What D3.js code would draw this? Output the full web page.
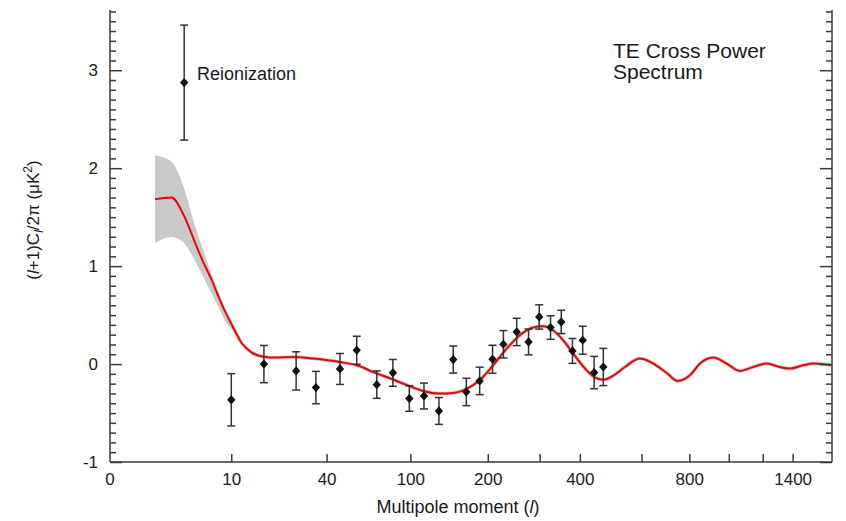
<!DOCTYPE html>
<html>
<head>
<meta charset="utf-8">
<script src="https://cdn.jsdelivr.net/npm/d3@7/dist/d3.min.js"></script>
<style>
  html, body { margin: 0; padding: 0; background: #fff; }
  svg { display: block; font-family: "Liberation Sans", Arial, Helvetica, sans-serif; }
</style>
</head>
<body>
<svg id="chart" width="846" height="521"></svg>
<script>
// ---- data ----
// Binned TE measurements: multipole, value, 1-sigma error
const dataL   = [10, 17, 27, 35, 47, 57, 71, 84, 99, 114, 131, 149, 167, 187, 208, 227, 252, 276, 299, 325, 351, 380, 408, 441, 469];
const dataV   = [-0.365, 0.0, -0.07, -0.24, -0.05, 0.141, -0.21, -0.09, -0.352, -0.326, -0.479, 0.046, -0.285, -0.172, 0.049, 0.202, 0.328, 0.226, 0.481, 0.373, 0.43, 0.134, 0.243, -0.087, -0.03];
const dataErr = [0.267, 0.19, 0.195, 0.165, 0.158, 0.143, 0.14, 0.137, 0.13, 0.132, 0.137, 0.138, 0.14, 0.14, 0.143, 0.14, 0.14, 0.132, 0.124, 0.12, 0.119, 0.127, 0.143, 0.165, 0.19];

// Reionization point
const reionL = [4];
const reionV = [2.874];
const reionErr = [0.587];

// Model curve
const modelL = [2, 3, 4, 5, 6, 7, 8, 9, 10, 12, 14, 17, 20, 26, 34, 47, 59, 68, 82, 97, 113, 132, 149, 168, 187, 209, 233, 258, 286, 308, 331, 356, 382, 419, 445, 470, 500, 540, 594, 645, 700, 747, 803, 851, 918, 988, 1063, 1141, 1225, 1312, 1381, 1477, 1552, 1700];
const modelV = [1.683, 1.70, 1.51, 1.25, 1.03, 0.86, 0.68, 0.53, 0.41, 0.21, 0.12, 0.075, 0.066, 0.072, 0.056, 0.02, -0.022, -0.08, -0.148, -0.216, -0.275, -0.301, -0.295, -0.25, -0.165, -0.012, 0.158, 0.294, 0.373, 0.386, 0.345, 0.243, 0.107, -0.063, -0.14, -0.16, -0.12, -0.03, 0.056, 0.005, -0.091, -0.172, -0.114, 0.005, 0.066, 0.005, -0.07, -0.03, 0.005, -0.03, -0.046, -0.012, 0.005, -0.012];

// Cosmic variance band around the model
const bandL    = [2, 3, 4, 5, 6, 7, 8, 9, 10, 11, 12];
const bandLow  = [1.237, 1.298, 1.233, 1.06, 0.882, 0.72, 0.574, 0.44, 0.36, 0.28, 0.2];
const bandHigh = [2.132, 2.065, 1.79, 1.417, 1.15, 0.912, 0.72, 0.55, 0.45, 0.32, 0.22];

// Axis ticks
const xTickValues = [10, 40, 100, 200, 300, 400, 600, 800, 1000, 1200, 1400];
const xTickLabels = ["10", "40", "100", "200", "", "400", "", "800", "", "", "1400"];
const originLabel = "0";
const yMajorTicks = [-1, 0, 1, 2, 3];
const yMajorLabels = ["-1", "0", "1", "2", "3"];

// ---- drawing ----
const svg = d3.select("#chart");
const axisColor = "#3a3a3a";

const x = d3.scalePow().exponent(0.25).domain([0.5, 1700]).range([110, 832]);
const y = d3.scaleLinear().domain([-1, 3.615]).range([462, 10]);
const [xl, xr] = x.range();
const [yb, yt] = y.range();

// band
const band = d3.area()
  .x((d, i) => x(bandL[i]))
  .y0((d, i) => y(bandLow[i]))
  .y1((d, i) => y(bandHigh[i]))
  .curve(d3.curveMonotoneX);
svg.append("path")
  .attr("d", band(bandL))
  .attr("fill", "#c9c9c9");

// model curve
const line = d3.line()
  .x((d, i) => x(modelL[i]))
  .y((d, i) => y(modelV[i]))
  .curve(d3.curveMonotoneX);
svg.append("path")
  .attr("d", line(modelL))
  .attr("fill", "none")
  .attr("stroke", "#f2b8b8")
  .attr("stroke-width", 3.5)
  .attr("stroke-linejoin", "round");
svg.append("path")
  .attr("d", line(modelL))
  .attr("fill", "none")
  .attr("stroke", "#cc1111")
  .attr("stroke-width", 2)
  .attr("stroke-linejoin", "round");

// error bars + diamonds
function drawPoints(Ls, Vs, Es) {
  const g = svg.append("g");
  const cap = 4;
  Ls.forEach((l, i) => {
    const cx = x(l);
    const y1 = y(Vs[i] + Es[i]);
    const y0 = y(Vs[i] - Es[i]);
    g.append("line").attr("x1", cx).attr("x2", cx).attr("y1", y1).attr("y2", y0)
      .attr("stroke", "#333").attr("stroke-width", 1.5);
    g.append("line").attr("x1", cx - cap).attr("x2", cx + cap).attr("y1", y1).attr("y2", y1)
      .attr("stroke", "#333").attr("stroke-width", 1.5);
    g.append("line").attr("x1", cx - cap).attr("x2", cx + cap).attr("y1", y0).attr("y2", y0)
      .attr("stroke", "#333").attr("stroke-width", 1.5);
    g.append("path")
      .attr("transform", `translate(${cx},${y(Vs[i])})`)
      .attr("d", "M0,-4.6L4.2,0L0,4.6L-4.2,0Z")
      .attr("fill", "#111");
  });
}
drawPoints(dataL, dataV, dataErr);
drawPoints(reionL, reionV, reionErr);

// axes
const minorTicks = d3.range(-10, 37).map(k => k / 10).filter(v => !yMajorTicks.includes(v));

const leftMajor = d3.axisLeft(y).tickValues(yMajorTicks).tickSize(-12).tickPadding(12)
  .tickFormat((d, i) => yMajorLabels[i]);
const leftMinor = d3.axisLeft(y).tickValues(minorTicks).tickSize(-6).tickFormat("");
const rightMajor = d3.axisRight(y).tickValues(yMajorTicks).tickSize(-12).tickFormat("");
const rightMinor = d3.axisRight(y).tickValues(minorTicks).tickSize(-6).tickFormat("");
const bottom = d3.axisBottom(x).tickValues(xTickValues).tickSize(-8).tickPadding(11)
  .tickFormat((d, i) => xTickLabels[i]);

function styleAxis(g) {
  g.select(".domain").remove();
  g.selectAll("line").attr("stroke", axisColor).attr("stroke-width", 1.5);
  g.selectAll("text").attr("fill", "#1a1a1a").style("font-size", "17px")
    .style("font-family", "\"Liberation Sans\", Arial, sans-serif");
}
svg.append("g").attr("transform", `translate(${xl},0)`).call(leftMajor).call(styleAxis);
svg.append("g").attr("transform", `translate(${xl},0)`).call(leftMinor).call(styleAxis);
svg.append("g").attr("transform", `translate(${xr},0)`).call(rightMajor).call(styleAxis);
svg.append("g").attr("transform", `translate(${xr},0)`).call(rightMinor).call(styleAxis);
const bg = svg.append("g").attr("transform", `translate(0,${yb})`).call(bottom).call(styleAxis);
bg.append("text").attr("x", xl).attr("y", 11).attr("dy", "0.71em")
  .attr("text-anchor", "middle").attr("fill", "#1a1a1a").style("font-size", "17px")
  .text(originLabel);

// axis frame lines (left, right, bottom)
const frame = svg.append("g").attr("stroke", axisColor).attr("stroke-width", 1.5).attr("fill", "none");
frame.append("line").attr("x1", xl).attr("x2", xl).attr("y1", yt).attr("y2", yb);
frame.append("line").attr("x1", xr).attr("x2", xr).attr("y1", yt).attr("y2", yb);
frame.append("line").attr("x1", xl).attr("x2", xr).attr("y1", yb).attr("y2", yb);

// labels
const xlab = svg.append("text").attr("x", 458).attr("y", 513).attr("text-anchor", "middle")
  .attr("fill", "#1a1a1a").style("font-size", "18px");
xlab.append("tspan").text("Multipole moment (");
xlab.append("tspan").attr("font-style", "italic").text("l");
xlab.append("tspan").text(")");

const ylab = svg.append("text").attr("transform", "translate(39,220) rotate(-90)")
  .attr("text-anchor", "middle").attr("fill", "#1a1a1a").style("font-size", "17px");
ylab.append("tspan").text("(");
ylab.append("tspan").attr("font-style", "italic").text("l");
ylab.append("tspan").text("+1)C");
ylab.append("tspan").attr("font-style", "italic").attr("font-size", "12px").attr("dy", "4").text("l");
ylab.append("tspan").attr("dy", "-4").text("/2π (μK");
ylab.append("tspan").attr("font-size", "12px").attr("dy", "-7").text("2");
ylab.append("tspan").attr("dy", "7").text(")");

svg.append("text").attr("x", 197).attr("y", 80).attr("fill", "#1a1a1a")
  .style("font-size", "18px").text("Reionization");

svg.append("text").attr("x", 613).attr("y", 58).attr("fill", "#1a1a1a")
  .style("font-size", "21px").text("TE Cross Power");
svg.append("text").attr("x", 613).attr("y", 79).attr("fill", "#1a1a1a")
  .style("font-size", "21px").text("Spectrum");
</script>
</body>
</html>
